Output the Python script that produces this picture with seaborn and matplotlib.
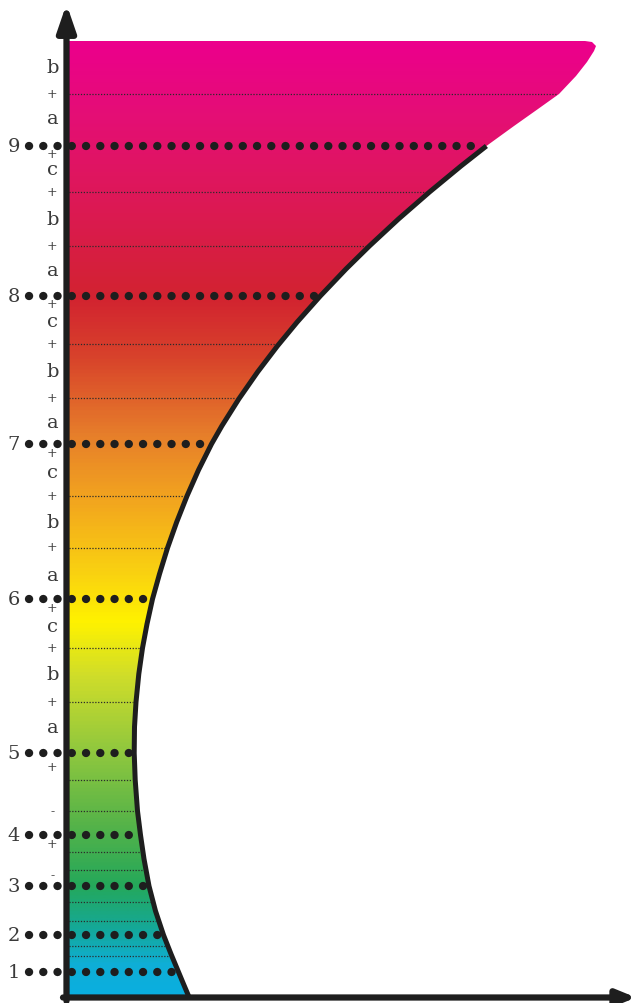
import numpy as np
import matplotlib
matplotlib.use("Agg")
from matplotlib import pyplot as plt
from matplotlib.colors import LinearSegmentedColormap
import seaborn as sns

# right-hand outline of the filled band, bottom to top (y = height, x = width)
curve_y = [0.0, 1.3, 2.5, 4.3, 6.2, 8.6, 11.1, 13.8, 16.2, 18.6, 21.7, 24.4, 27.0,
           29.5, 32.3, 34.9, 37.3, 39.8, 42.3, 44.9, 47.5, 50.1, 52.7, 55.3, 57.1,
           59.8, 62.5, 65.1, 67.5, 70.1, 72.8, 75.1, 77.8, 80.5, 83.1, 85.1]
curve_x = [12.3, 11.75, 11.25, 10.5, 9.75, 8.95, 8.3, 7.8, 7.45, 7.15, 6.92, 6.82,
           6.85, 7.0, 7.28, 7.65, 8.1, 8.65, 9.35, 10.15, 11.07, 12.1, 13.25, 14.55,
           15.58, 17.28, 19.16, 21.14, 23.12, 25.43, 28.0, 30.34, 33.25, 36.35,
           39.5, 42.04]
# pink tail above level 9 (no outline)
tail_y = [87.1, 88.8, 90.3, 92.1, 93.5, 94.6, 95.1, 95.5, 95.6]
tail_x = [44.8, 47.2, 49.3, 51.0, 52.1, 52.8, 53.0, 52.6, 51.9]
top_y = 95.6

# numbered levels (thick dotted lines)
level_labels = ["1", "2", "3", "4", "5", "6", "7", "8", "9"]
level_y = [2.5, 6.2, 11.1, 16.2, 24.4, 39.8, 55.3, 70.1, 85.1]

# thin dotted guide lines
guide_y = [4.1, 5.1, 7.6, 9.5, 12.7, 14.5, 18.6, 21.7, 29.5, 34.9, 44.9, 50.1,
           59.9, 65.3, 75.1, 80.5, 90.3]

# small labels left of the axis
letter_labels = ["a", "b", "c", "a", "b", "c", "a", "b", "c", "a", "b", "c", "a", "b"]
letter_y = [27.0, 32.3, 37.1, 42.2, 47.5, 52.5, 57.5, 62.6, 67.6, 72.7, 77.8, 82.8,
            87.9, 93.0]
plus_y = [15.3, 23.0, 29.5, 34.9, 38.9, 45.0, 50.1, 54.4, 59.9, 65.3, 69.3, 75.1,
          80.5, 84.3, 90.3]
minus_y = [12.2, 18.6]

# colour stops of the vertical gradient
grad_y = [0.0, 3.0, 6.5, 11.0, 17.0, 25.0, 32.0, 37.5, 42.0, 50.0, 56.0, 64.0,
          70.0, 80.0, 88.0, 95.6]
grad_colors = ["#0aaee0", "#0fafd6", "#14a89a", "#25a85a", "#55b349", "#94c93d",
               "#cfdd2a", "#fff200", "#fad410", "#f2a31f", "#e7802a", "#d8432b",
               "#d22330", "#dd1857", "#e40f74", "#ec008c"]

INK = "#1e1e1e"
TEXT = "#3a3a3a"


def outline_x(y):
    return np.interp(y, curve_y + tail_y, curve_x + tail_x)


sns.set_theme(style="white")
plt.rcParams["font.family"] = ["DejaVu Serif", "DejaVu Sans"]

fig = plt.figure(figsize=(6.39, 10.04), dpi=100)
ax = fig.add_axes([0, 0, 1, 1])

# gradient band clipped to the shape
shape_x = [0] + curve_x + tail_x + [0]
shape_y = [0] + curve_y + tail_y + [top_y]
patch = ax.fill(shape_x, shape_y, facecolor="none", edgecolor="none")[0]
cmap = LinearSegmentedColormap.from_list(
    "band", list(zip(np.array(grad_y) / top_y, grad_colors)))
im = ax.imshow(np.linspace(0, 1, 800).reshape(-1, 1), cmap=cmap, origin="lower",
               extent=[0, max(shape_x) + 1, 0, top_y], aspect="auto",
               interpolation="bilinear", zorder=1)
im.set_clip_path(patch)

# thin guides
for y in guide_y:
    ax.plot([0, outline_x(y) - 0.3], [y, y], color="#2b2b2b", lw=0.9,
            ls=(0, (1, 1.3)), zorder=2)

# thick dotted levels
for y in level_y:
    ax.plot([-3.7, outline_x(y) - 0.2], [y, y], color=INK, lw=6.0,
            ls=(0, (0.01, 1.7)), dash_capstyle="round", zorder=3)

# outline curve
sns.lineplot(x=curve_x, y=curve_y, orient="y", color=INK, lw=3.6, ax=ax,
             solid_capstyle="butt", solid_joinstyle="round", zorder=4)

# axes with arrows
ax.annotate("", xy=(0.05, 99.3), xytext=(0.05, -0.4),
            arrowprops=dict(arrowstyle="-|>,head_length=1.6,head_width=0.55",
                            mutation_scale=10, lw=4.5, color=INK,
                            shrinkA=0, shrinkB=0), zorder=5)
ax.annotate("", xy=(57.0, -0.05), xytext=(-0.3, -0.05),
            arrowprops=dict(arrowstyle="-|>,head_length=1.1,head_width=0.45",
                            mutation_scale=10, lw=4.5, color=INK,
                            shrinkA=0, shrinkB=0), zorder=5)

for lab, y in zip(level_labels, level_y):
    ax.text(-5.2, y, lab, ha="center", va="center", fontsize=14, color=TEXT)
for lab, y in zip(letter_labels, letter_y):
    ax.text(-1.35, y, lab, ha="center", va="center", fontsize=14, color=TEXT)
for y in plus_y:
    ax.text(-1.4, y, "+", ha="center", va="center", fontsize=9, color=TEXT)
for y in minus_y:
    ax.text(-1.3, y, "-", ha="center", va="center", fontsize=9, color=TEXT)

ax.set_xlim(-6.6, 57.3)
ax.set_ylim(-0.6, 99.8)
ax.set_axis_off()

fig.savefig("out.png", dpi=100)
